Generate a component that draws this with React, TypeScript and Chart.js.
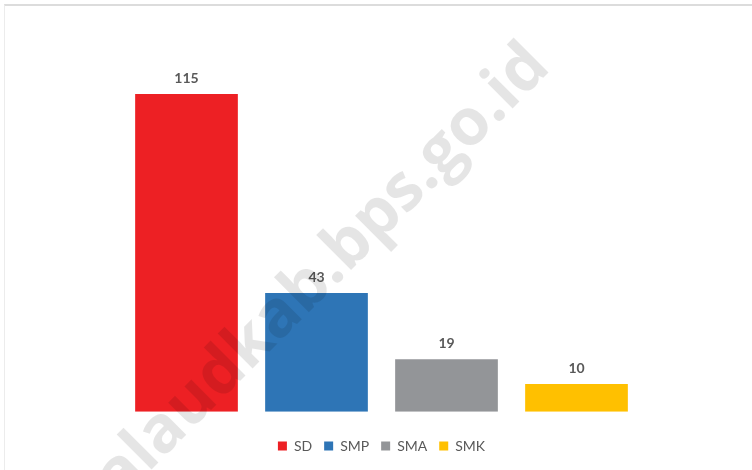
import React, { useEffect, useRef } from "react";
import { Chart, registerables } from "chart.js";

Chart.register(...registerables);

const categories = ["SD", "SMP", "SMA", "SMK"];
const values = [115, 43, 19, 10];
const colors = ["#ED2024", "#2E75B6", "#939598", "#FFC000"];
const WATERMARK = "https://talaudkab.bps.go.id";

const valueLabels = {
  id: "valueLabels",
  afterDatasetsDraw(chart: any) {
    const ctx = chart.ctx;
    ctx.save();
    ctx.font = 'bold 14px Lato';
    ctx.fillStyle = "#595959";
    ctx.textAlign = "center";
    ctx.textBaseline = "alphabetic";
    chart.data.datasets.forEach((ds: any, i: number) => {
      const meta = chart.getDatasetMeta(i);
      meta.data.forEach((el: any, j: number) => {
        const v = ds.data[j];
        if (v === null || v === undefined) return;
        ctx.fillText(String(v), el.x, el.y - 11);
      });
    });
    ctx.restore();
  },
};

const watermark = {
  id: "watermark",
  afterDatasetsDraw(chart: any) {
    const ctx = chart.ctx;
    ctx.save();
    ctx.font = 'bold 65px "Open Sans"';
    const prefix = WATERMARK.slice(0, WATERMARK.indexOf(".go"));
    const wPre = ctx.measureText(prefix).width;
    const wDot = ctx.measureText(".").width;
    ctx.translate(435, 186);
    ctx.rotate(-Math.PI / 4);
    ctx.fillStyle = "rgba(0,0,0,0.1)";
    ctx.textBaseline = "alphabetic";
    ctx.textAlign = "left";
    ctx.fillText(WATERMARK, -wPre - wDot / 2, 0);
    ctx.restore();
  },
};

export default function App() {
  const ref = useRef<HTMLCanvasElement | null>(null);
  useEffect(() => {
    if (!ref.current) return;
    const chart = new Chart(ref.current, {
      type: "bar",
      data: {
        labels: categories,
        datasets: categories.map((c, i) => ({
          label: c,
          data: values.map((v, j) => (j === i ? v : null)),
          backgroundColor: colors[i],
          borderWidth: 0,
          grouped: false,
          barPercentage: 0.79,
          categoryPercentage: 1,
        })),
      },
      options: {
        animation: false,
        responsive: true,
        maintainAspectRatio: false,
        layout: { padding: { left: 121.5, right: 110.5, top: 25, bottom: 7 } },
        scales: {
          x: {
            display: true,
            grid: { display: false },
            border: { display: false },
            ticks: { display: false },
            afterFit: (scale: any) => {
              scale.height = 15.3;
            },
          },
          y: { display: false, min: 0, max: 140 },
        },
        plugins: {
          tooltip: { enabled: false },
          legend: {
            position: "bottom",
            labels: {
              boxWidth: 9,
              boxHeight: 9,
              padding: 12,
              color: "#595959",
              font: { family: "Lato", size: 14 },
            },
          },
        },
      },
      plugins: [valueLabels, watermark],
    });
    return () => chart.destroy();
  }, []);
  return (
    <div style={{ position: "fixed", left: 0, top: 0, width: 752, height: 470, background: "#fff" }}>
      <canvas ref={ref} />
      <div
        style={{
          position: "absolute",
          left: 4,
          top: 4,
          width: 748,
          height: 466,
          boxSizing: "border-box",
          borderTop: "2px solid #dcdcdc",
          borderLeft: "1px solid #ececec",
          pointerEvents: "none",
        }}
      />
    </div>
  );
}
